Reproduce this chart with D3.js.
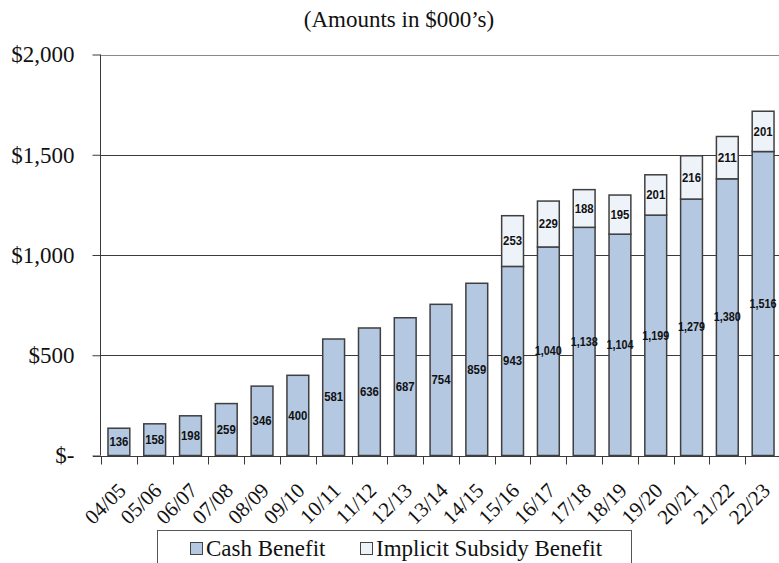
<!DOCTYPE html>
<html>
<head>
<meta charset="utf-8">
<script src="https://cdn.jsdelivr.net/npm/d3@7"></script>
<style>
  html, body { margin: 0; padding: 0; background: #fff; }
  svg { display: block; }
</style>
</head>
<body>
<svg id="chart" width="779" height="563"></svg>
<script>
// Fiscal years and benefit amounts ($000's)
const years = ["04/05","05/06","06/07","07/08","08/09","09/10","10/11","11/12","12/13","13/14",
               "14/15","15/16","16/17","17/18","18/19","19/20","20/21","21/22","22/23"];
const cashBenefit = [136,158,198,259,346,400,581,636,687,754,859,943,1040,1138,1104,1199,1279,1380,1516];
const implicitSubsidy = [0,0,0,0,0,0,0,0,0,0,0,253,229,188,195,201,216,211,201];
const yTicks = [0, 500, 1000, 1500, 2000];
const seriesNames = ["Cash Benefit", "Implicit Subsidy Benefit"];

const cashColor = "#b4c8e2";
const subsidyColor = "#eef3fa";
const edgeColor = "#3f3f3f";

const svg = d3.select("#chart");
const serif = "'Liberation Serif', 'Times New Roman', serif";
const sans = "'Liberation Sans', Arial, sans-serif";

const x = d3.scaleBand().domain(years).range([101, 781]).paddingInner(0.39).paddingOuter(0.195);
const y = d3.scaleLinear().domain([0, 2000]).range([455.5, 54.5]);

// Title
svg.append("text")
  .attr("x", 399).attr("y", 27)
  .attr("text-anchor", "middle")
  .attr("font-family", serif).attr("font-size", 23)
  .attr("fill", "#111")
  .text("(Amounts in $000\u2019s)");

// Horizontal gridlines
svg.append("g").selectAll("line")
  .data(yTicks.filter(d => d > 0))
  .join("line")
  .attr("x1", 101).attr("x2", 779)
  .attr("y1", d => Math.round(y(d)) + 0.5).attr("y2", d => Math.round(y(d)) + 0.5)
  .attr("stroke", d => d === 2000 ? "#8a8a8a" : "#3a3a3a").attr("stroke-width", 1);

// Y axis
const yAxis = d3.axisLeft(y).tickValues(yTicks).tickSize(8).tickPadding(18)
  .tickFormat(d => d === 0 ? "$-" : "$" + d3.format(",")(d));
const gy = svg.append("g").attr("transform", "translate(100.5,0)").call(yAxis);
gy.select(".domain").attr("stroke", "#3a3a3a").attr("d", `M0,${y(2000)}V${y(0)}`);
gy.selectAll(".tick line").attr("stroke", "#3a3a3a");
gy.selectAll(".tick text")
  .attr("font-family", serif).attr("font-size", 23).attr("fill", "#111")
  .attr("dy", "0.32em");

// Bars
const bars = svg.append("g");
years.forEach((yr, i) => {
  const x0 = x(yr), w = x.bandwidth();
  const c = cashBenefit[i], s = implicitSubsidy[i];
  bars.append("rect")
    .attr("x", x0).attr("width", w)
    .attr("y", y(c)).attr("height", y(0) - y(c))
    .attr("fill", cashColor).attr("stroke", edgeColor).attr("stroke-width", 1.5);
  if (s > 0) {
    bars.append("rect")
      .attr("x", x0).attr("width", w)
      .attr("y", y(c + s)).attr("height", y(c) - y(c + s))
      .attr("fill", subsidyColor).attr("stroke", edgeColor).attr("stroke-width", 1.5);
  }
});

// X axis baseline and ticks
const gx = svg.append("g").attr("transform", `translate(0,${Math.round(y(0)) + 0.5})`);
gx.append("line").attr("x1", 93).attr("x2", 779).attr("stroke", "#3a3a3a");
const tickXs = years.map(d => x(d) - x.step() * x.paddingInner() / 2);
gx.selectAll(".xt").data(tickXs).join("line")
  .attr("x1", d => Math.round(d) + 0.5).attr("x2", d => Math.round(d) + 0.5)
  .attr("y1", 0).attr("y2", 8).attr("stroke", "#3a3a3a");

// Rotated category labels
svg.append("g").selectAll("text")
  .data(years)
  .join("text")
  .attr("transform", d => `translate(${x(d) + x.bandwidth() / 2 + 3},${y(0) + 31}) rotate(-45)`)
  .attr("text-anchor", "end")
  .attr("font-family", serif).attr("font-size", 21).attr("fill", "#111")
  .attr("dy", "0.35em")
  .text(d => d);

// Value labels (condensed bold)
const labels = svg.append("g")
  .attr("font-family", sans).attr("font-weight", "bold").attr("font-size", 12)
  .attr("fill", "#111").attr("text-anchor", "middle");
const labelWidth = v => v >= 1000 ? 27 : 19;
years.forEach((yr, i) => {
  const cx = x(yr) + x.bandwidth() / 2;
  const c = cashBenefit[i], s = implicitSubsidy[i];
  labels.append("text")
    .attr("x", Math.min(cx, 763)).attr("y", (y(c) + y(0)) / 2).attr("dy", "0.35em")
    .attr("textLength", labelWidth(c))
    .attr("lengthAdjust", "spacingAndGlyphs")
    .text(d3.format(",")(c));
  if (s > 0) {
    labels.append("text")
      .attr("x", cx).attr("y", (y(c) + y(c + s)) / 2).attr("dy", "0.35em")
      .attr("textLength", labelWidth(s))
      .attr("lengthAdjust", "spacingAndGlyphs")
      .text(d3.format(",")(s));
  }
});

// Legend
const lg = svg.append("g");
lg.append("rect").attr("x", 157.5).attr("y", 530.5).attr("width", 474).attr("height", 40)
  .attr("fill", "#fff").attr("stroke", "#555").attr("stroke-width", 1);
const legendItems = [
  { name: seriesNames[0], color: cashColor, sx: 190, tx: 206 },
  { name: seriesNames[1], color: subsidyColor, sx: 360, tx: 376 }
];
legendItems.forEach(it => {
  lg.append("rect").attr("x", it.sx + 0.5).attr("y", 542.5).attr("width", 12).attr("height", 12)
    .attr("fill", it.color).attr("stroke", "#444").attr("stroke-width", 1);
  lg.append("text").attr("x", it.tx).attr("y", 556)
    .attr("font-family", serif).attr("font-size", 23).attr("fill", "#111")
    .text(it.name);
});
</script>
</body>
</html>
